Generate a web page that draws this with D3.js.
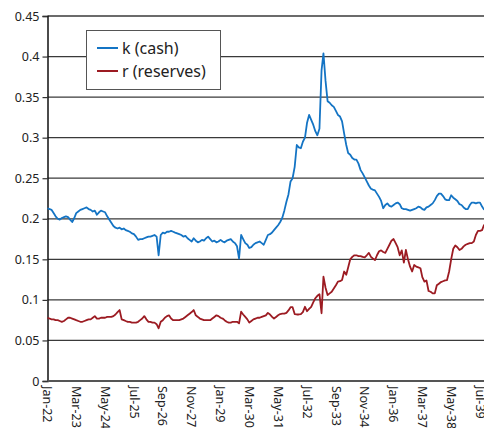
<!DOCTYPE html>
<html>
<head>
<meta charset="utf-8">
<script src="https://cdn.jsdelivr.net/npm/d3@7"></script>
<style>
  html, body { margin: 0; padding: 0; background: #fff; }
  svg { display: block; }
  text { font-family: "Noto Sans", "Open Sans", sans-serif; fill: #222; }
</style>
</head>
<body>
<svg id="chart" width="484" height="428"></svg>
<script>
// Monthly series starting Jan 1922
const startYear = 1922;
const startMonth = 0;

const cashK = [
 .213,.212,.211,.207,.203,.200,.199,.201,.202,.203,.202,.199,.196,.201,.207,.209,.211,.212,.213,.214,
 .212,.211,.209,.210,.205,.208,.210,.209,.208,.203,.199,.195,.191,.189,.188,.189,.187,.188,.186,.185,
 .184,.182,.181,.178,.174,.175,.175,.176,.177,.178,.178,.179,.180,.178,.155,.180,.183,.182,.184,.184,
 .185,.184,.183,.182,.181,.180,.178,.179,.176,.174,.172,.176,.173,.171,.172,.174,.173,.176,.178,.175,
 .172,.173,.171,.172,.174,.172,.171,.173,.174,.175,.172,.170,.166,.151,.180,.175,.170,.168,.164,.165,
 .168,.170,.171,.172,.170,.168,.174,.180,.181,.183,.186,.189,.192,.196,.201,.210,.221,.230,.246,.250,
 .264,.291,.288,.287,.295,.300,.318,.328,.322,.316,.308,.303,.311,.383,.404,.370,.345,.343,.340,.338,
 .333,.328,.326,.320,.305,.291,.281,.279,.275,.273,.273,.268,.260,.256,.251,.246,.241,.237,.236,.235,
 .231,.227,.222,.213,.217,.219,.216,.215,.217,.219,.220,.218,.213,.212,.212,.211,.210,.211,.212,.213,
 .215,.214,.212,.211,.214,.215,.217,.219,.223,.228,.231,.231,.228,.224,.223,.223,.229,.226,.224,.222,
 .218,.217,.214,.212,.212,.217,.220,.220,.219,.220,.220,.215,.211
];

const reservesR = [
 .078,.077,.076,.076,.075,.075,.074,.073,.074,.076,.078,.078,.077,.076,.075,.074,.073,.073,.074,.075,
 .076,.076,.078,.080,.077,.077,.078,.078,.078,.079,.079,.079,.080,.082,.085,.0875,.076,.075,.074,.073,
 .073,.072,.072,.072,.073,.075,.077,.080,.076,.073,.073,.072,.072,.070,.065,.073,.075,.078,.080,.081,
 .077,.075,.075,.075,.075,.076,.077,.079,.081,.083,.085,.0875,.081,.079,.077,.076,.075,.075,.075,.075,
 .077,.079,.081,.080,.078,.077,.075,.073,.072,.072,.073,.073,.073,.071,.0855,.082,.079,.076,.072,.074,
 .076,.077,.078,.078,.079,.080,.081,.084,.082,.079,.077,.079,.081,.0825,.083,.083,.084,.087,.091,.091,
 .0825,.082,.082,.0825,.085,.0915,.086,.089,.0915,.097,.102,.105,.107,.0835,.1285,.115,.106,.108,.110,.114,
 .118,.1225,.123,.1245,.135,.131,.140,.150,.153,.155,.155,.154,.154,.153,.1525,.155,.158,.153,.151,.149,
 .155,.160,.161,.159,.158,.163,.168,.173,.175,.170,.165,.155,.161,.146,.1615,.150,.141,.135,.143,.141,
 .140,.139,.128,.1225,.124,.111,.110,.108,.108,.118,.120,.122,.123,.124,.1245,.135,.150,.163,.167,.165,
 .1615,.163,.166,.168,.169,.170,.170,.172,.180,.185,.185,.186,.193
];

const yTicks = [0, 0.05, 0.1, 0.15, 0.2, 0.25, 0.3, 0.35, 0.4, 0.45];
const tickLabels = ["Jan-22","Mar-23","May-24","Jul-25","Sep-26","Nov-27","Jan-29","Mar-30",
                    "May-31","Jul-32","Sep-33","Nov-34","Jan-36","Mar-37","May-38","Jul-39"];
const tickStepMonths = 14;
const seriesNames = ["k (cash)", "r (reserves)"];
const seriesColors = ["#1474c4", "#9c1b22"];

const svg = d3.select("#chart");
const dateAt = i => new Date(startYear, startMonth + i, 1);

const x = d3.scaleTime()
  .domain([dateAt(0), dateAt((tickLabels.length - 1) * tickStepMonths)])
  .range([47.5, 480]);
const y = d3.scaleLinear().domain([0, 0.45]).range([381, 16]);

const plotRight = 484;

// gridlines
svg.append("g").selectAll("line")
  .data(yTicks.filter(t => t > 0))
  .join("line")
  .attr("x1", x.range()[0]).attr("x2", plotRight)
  .attr("y1", d => y(d)).attr("y2", d => y(d))
  .attr("stroke", "#3a3a3a").attr("stroke-width", 1.3);

// y axis
const yAxis = d3.axisLeft(y).tickValues(yTicks).tickSize(5).tickPadding(3)
  .tickFormat(d => d3.format("")(+d.toFixed(2)));
const gy = svg.append("g").attr("transform", `translate(${x.range()[0]},0)`).call(yAxis);
gy.select(".domain").attr("stroke", "#111").attr("stroke-width", 1.5);
gy.selectAll(".tick line").attr("stroke", "#333").attr("stroke-width", 1.2);
gy.selectAll(".tick text").style("font-size", "12.5px").attr("fill", "#222")
  .style("font-family", "'Noto Sans', sans-serif");

// x axis line
svg.append("line")
  .attr("x1", x.range()[0]).attr("x2", plotRight)
  .attr("y1", y(0)).attr("y2", y(0))
  .attr("stroke", "#555").attr("stroke-width", 2);

// x tick labels
const xTickDates = tickLabels.map((t, i) => dateAt(i * tickStepMonths));
svg.append("g").selectAll("text")
  .data(tickLabels)
  .join("text")
  .attr("transform", (d, i) => `translate(${x(xTickDates[i])},${y(0) + 5}) rotate(90)`)
  .attr("dy", "0.35em")
  .attr("text-anchor", "start")
  .style("font-size", "12.5px")
  .text(d => d);

// lines
const line = d3.line()
  .x((d, i) => x(dateAt(i)))
  .y(d => y(d));

[cashK, reservesR].forEach((s, k) => {
  svg.append("path")
    .datum(s)
    .attr("fill", "none")
    .attr("stroke", seriesColors[k])
    .attr("stroke-width", 1.8)
    .attr("stroke-linejoin", "round")
    .attr("d", line);
});

// legend
const lg = svg.append("g");
lg.append("rect").attr("x", 86.5).attr("y", 30.5).attr("width", 134).attr("height", 59)
  .attr("fill", "#fff").attr("stroke", "#555").attr("stroke-width", 1);
seriesNames.forEach((n, k) => {
  const cy = 48 + k * 23;
  lg.append("line").attr("x1", 97).attr("x2", 118).attr("y1", cy).attr("y2", cy)
    .attr("stroke", seriesColors[k]).attr("stroke-width", 2);
  lg.append("text").attr("x", 122).attr("y", cy).attr("dy", "0.35em")
    .style("font-size", "16px").text(n);
});
</script>
</body>
</html>
